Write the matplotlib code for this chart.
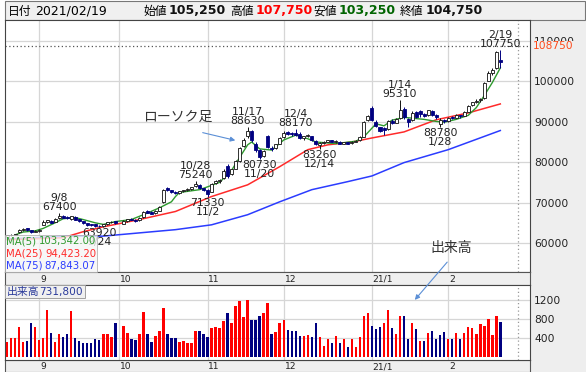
import numpy as np
import matplotlib
matplotlib.use('Agg')
import matplotlib.pyplot as plt
from matplotlib.patches import Rectangle

plt.rcParams['font.family'] = ['DejaVu Sans', 'Noto Sans CJK JP']

nan = np.nan

# daily candles 2020/08/20 - 2021/02/19 (no trading on 10/1)
opens = [61600, 61900, 62100, 62600, 63200, 63600, 63200, 62700, 63000, 64500,
         65300, 65400, 65200, 66200, 66800, 66400, 66000, 66500, 65900, 65400,
         64900, 64600, 64600, 64300, 64100, 64600, 65100, 65400, nan, 64800,
         65400, 66000, 65700, 65600, 66400, 67800, 67600, 67400, 68000, 70200,
         73600, 73000, 72700, 72300, 72800, 73000, 73400, 74000, 74300, 73500,
         73200, 72600, 74800, 75400, 76000, 79000, 77000, 78400, 80200, 84000,
         86400, 87600, 84600, 83000, 81600, 86600, 83600, 83400, 84600, 86200,
         87400, 87200, 87200, 87000, 86000, 86500, 86400, 85200, 84300, 84800,
         85000, 85500, 85000, 85000, 84600, 84900, 84700, 85000, 85400, 86300,
         90500, 93400, 90000, 88600, 88500, 88200, 90300, 89800, 91000, 93200,
         90600, 90400, 92400, 92600, 92000, 91600, 92600, 91800, 89400, 90400,
         90200, 91200, 91000, 91600, 91500, 92500, 94100, 94900, 95300, 95800,
         100200, 102000, 103300, 105250]
highs = [62000, 62200, 62300, 63400, 63600, 63700, 63300, 63200, 63400, 65600,
         65800, 65600, 66200, 67400, 66900, 66700, 66800, 66600, 66000, 65500,
         65000, 64800, 64700, 64500, 64800, 65300, 65500, 65500, nan, 65600,
         66000, 66200, 65900, 66400, 67800, 68200, 67800, 68200, 69200, 73400,
         73900, 73200, 72900, 72900, 73200, 73500, 73900, 75240, 74600, 73700,
         73400, 74800, 75600, 75800, 78400, 79500, 78400, 80600, 83800, 86000,
         88630, 87900, 85000, 83200, 83000, 86800, 84000, 84600, 86200, 87600,
         87800, 87500, 88170, 87400, 86600, 87000, 86500, 85400, 85000, 85300,
         85600, 85600, 85500, 85200, 85100, 85000, 85200, 85500, 86400, 90300,
         91800, 93800, 90400, 88800, 88700, 90400, 90600, 91000, 95310, 93600,
         90900, 92600, 92600, 92800, 92200, 93000, 92800, 92000, 91000, 90800,
         91200, 91400, 91900, 91800, 92600, 94200, 95000, 95600, 96000, 99900,
         102600, 103400, 107500, 107750]
lows = [61400, 61700, 61900, 62500, 63000, 63000, 62500, 62600, 62800, 64400,
        65000, 64900, 65100, 66000, 66200, 66000, 65800, 65700, 65300, 64800,
        64300, 64200, 64000, 63920, 64000, 64500, 64900, 64800, nan, 64700,
        65300, 65600, 65300, 65500, 66300, 67400, 67100, 67300, 67900, 70000,
        72800, 72400, 72200, 72200, 72600, 72800, 73200, 73800, 73400, 72800,
        71330, 72500, 74500, 74800, 75800, 76200, 76800, 78200, 80000, 83800,
        86000, 85000, 82600, 80730, 81400, 83400, 82800, 83200, 84400, 86000,
        86800, 86600, 86600, 85800, 85600, 86200, 85200, 84200, 83260, 84600,
        84900, 84900, 84800, 84400, 84400, 84400, 84600, 84900, 85300, 86200,
        90200, 90200, 88600, 87400, 86800, 88000, 89400, 89600, 90800, 90800,
        88600, 90300, 91000, 91200, 91200, 91500, 91400, 90800, 88780, 89800,
        90000, 90600, 90900, 91000, 91400, 92400, 93800, 94600, 95000, 95600,
        100000, 101600, 103000, 103250]
closes = [61900, 62100, 62200, 63200, 63400, 63200, 62700, 63000, 63200, 65300,
          65600, 65000, 66000, 66600, 66300, 66200, 66600, 65800, 65400, 64900,
          64500, 64400, 64200, 64100, 64600, 65100, 65300, 64900, nan, 65400,
          65900, 65700, 65500, 66300, 67600, 67500, 67300, 68000, 69000, 73200,
          73000, 72600, 72400, 72800, 73000, 73300, 73800, 74500, 73600, 73000,
          72200, 74600, 75300, 75500, 77900, 76600, 78200, 80300, 83500, 85600,
          87600, 85400, 83000, 81400, 82700, 83800, 83200, 84400, 86000, 87300,
          87100, 86900, 86800, 86000, 86400, 86700, 85400, 84500, 84800, 85000,
          85400, 85000, 85300, 84600, 84900, 84600, 85000, 85300, 86200, 90000,
          91500, 90500, 89000, 87800, 87900, 90100, 89700, 90800, 93000, 91200,
          90000, 92300, 91300, 92000, 91500, 92800, 91800, 91200, 90400, 90200,
          91000, 90900, 91700, 91400, 92400, 94000, 94800, 95200, 95600, 99600,
          102200, 102800, 107200, 104750]

# volume in thousand shares, 1 = up (red), 0 = down (navy)
volumes = [322, 394, 407, 625, 322, 337, 723, 625, 358, 407,
           989, 512, 322, 477, 414, 477, 975, 407, 337, 302,
           302, 302, 372, 358, 477, 484, 428, 709, nan, 653,
           512, 372, 358, 477, 940, 477, 322, 449, 547, 1038,
           477, 400, 400, 322, 337, 302, 302, 547, 547, 477,
           428, 604, 625, 604, 758, 919, 709, 1081, 1186, 835,
           1200, 779, 779, 870, 919, 1130, 484, 519, 723, 779,
           568, 547, 547, 449, 449, 463, 428, 709, 428, 232,
           372, 302, 449, 302, 372, 218, 372, 218, 414, 863,
           933, 660, 582, 625, 709, 989, 604, 484, 870, 870,
           372, 709, 582, 337, 337, 512, 547, 372, 463, 519,
           372, 372, 512, 372, 512, 638, 604, 484, 688, 660,
           800, 463, 863, 731.8]
vol_up = [1, 1, 1, 1, 1, 0, 0, 1, 1, 1,
          1, 0, 1, 1, 0, 0, 1, 0, 0, 0,
          0, 0, 0, 0, 1, 1, 1, 0, 0, 1,
          1, 0, 0, 1, 1, 0, 0, 1, 1, 1,
          0, 0, 0, 1, 1, 1, 1, 1, 0, 0,
          0, 1, 1, 1, 1, 0, 1, 1, 1, 1,
          1, 0, 0, 0, 1, 1, 0, 1, 1, 1,
          0, 0, 0, 0, 1, 1, 0, 0, 1, 1,
          1, 0, 1, 0, 1, 0, 1, 1, 1, 1,
          1, 0, 0, 0, 1, 1, 0, 1, 1, 0,
          0, 1, 0, 1, 0, 1, 0, 0, 0, 0,
          1, 0, 1, 0, 1, 1, 1, 1, 1, 1,
          1, 1, 1, 0]

# moving averages (day index, value)
ma5_idx = [2, 4, 7, 9, 12, 14, 17, 19, 22, 24, 27, 31, 34, 38, 41, 42, 43, 48, 50,
           53, 56, 57, 60, 61, 63, 66, 69, 72, 75, 77, 82, 87, 89, 92, 94, 96, 99,
           101, 104, 107, 109, 112, 115, 117, 119, 121, 123]
ma5_val = [62000, 62700, 63000, 63600, 65000, 66000, 66300, 65800, 65000, 64600,
           65300, 65800, 67000, 68700, 70200, 71500, 72500, 73200, 73900, 75000,
           78000, 79600, 84300, 85000, 83300, 83000, 85500, 86700, 85800, 85000,
           84600, 85200, 86300, 89500, 89000, 90400, 91100, 90900, 90600, 90100,
           89900, 90600, 91600, 93500, 96500, 99700, 103342.00]
ma25_idx = [0, 14, 19, 24, 33, 42, 51, 60, 68, 75, 80, 86, 91, 99, 107, 115, 123]
ma25_val = [60800, 61300, 62800, 64000, 65800, 67800, 71500, 74400, 78900, 83100,
            84300, 85000, 86000, 87500, 90500, 92200, 94423.20]
ma75_idx = [0, 15, 24, 42, 51, 60, 68, 76, 85, 91, 99, 110, 123]
ma75_val = [61000, 61700, 61700, 63300, 64500, 67000, 70200, 73200, 75200, 76600,
            79900, 83100, 87843.07]

month_idx = [8, 28, 50, 69, 91, 110]
month_labels = ['9', '10', '11', '12', '21/1', '2']
price_ticks = [60000, 70000, 80000, 90000, 100000, 110000]
vol_ticks = [400, 800, 1200]
hi_marks = [(13, '9/8'), (47, '10/28'), (60, '11/17'), (72, '12/4'), (98, '1/14'), (123, '2/19')]
lo_marks = [(23, '9/24'), (50, '11/2'), (63, '11/20'), (78, '12/14'), (108, '1/28')]
ref_price = 108750
last_date = '2021/02/19'

opens = np.array(opens, dtype=float)
highs = np.array(highs, dtype=float)
lows = np.array(lows, dtype=float)
closes = np.array(closes, dtype=float)
volumes = np.array(volumes, dtype=float)
x = np.arange(len(closes))
ok = ~np.isnan(closes)
up = closes >= opens

W, H = 586, 372
NAVY = '#000080'
GRID = '#d6d6d6'


def box(x0, y0, x1, y1):
    return [x0 / W, 1 - y1 / H, (x1 - x0) / W, (y1 - y0) / H]


fig = plt.figure(figsize=(W / 100, H / 100), dpi=100)

bg = fig.add_axes([0, 0, 1, 1])
bg.set_xlim(0, W)
bg.set_ylim(H, 0)
bg.axis('off')
bg.add_patch(Rectangle((530, 20), 56, 352, fc='#eeeeee', ec='none'))
bg.add_patch(Rectangle((5, 1), 580, 19, fc='#f0f0f0', ec='#777777', lw=0.8))

# header
hy = 11
bg.text(8, hy, '日付', fontsize=8.5, va='center')
bg.text(35, hy, last_date, fontsize=9, va='center')
head = [('始値', opens[-1], '#111111', 143),
        ('高値', highs[-1], '#ff0000', 230),
        ('安値', lows[-1], '#006400', 313),
        ('終値', closes[-1], '#111111', 400)]
for name, v, c, hx in head:
    bg.text(hx, hy, name, fontsize=8.5, va='center')
    bg.text(hx + 26, hy, f'{v:,.0f}', fontsize=9, fontweight='bold', color=c, va='center')

xlim = (-0.5, 130.4)
now_x = len(closes) + 3.4

# price panel
ax = fig.add_axes(box(5, 20, 530, 272))
ax.set_xlim(*xlim)
ax.set_ylim(52820, 115200)
ax.set_xticks(month_idx)
ax.set_xticklabels([])
ax.set_yticks(price_ticks)
ax.set_yticklabels([str(t) for t in price_ticks])
ax.yaxis.tick_right()
ax.tick_params(axis='y', length=0, pad=3, labelsize=7.7, labelcolor='#222222')
ax.tick_params(axis='x', length=0)
ax.grid(True, color=GRID, lw=0.9)
ax.set_axisbelow(True)
for s in ax.spines.values():
    s.set_color('#444444')

ax.axhline(ref_price, color='#555555', lw=0.9, ls=(0, (1, 2)))
ax.axvline(now_x, color='#999999', lw=0.9, ls=(0, (1, 2)))
ax.text(1.005, ref_price, str(ref_price), transform=ax.get_yaxis_transform(),
        color='#ff4a1a', fontsize=7.7, va='center', ha='left',
        bbox=dict(fc='#eeeeee', ec='none', pad=0.3))

ax.plot(ma75_idx, ma75_val, color='#2b3cff', lw=1.1, zorder=2)
ax.plot(ma25_idx, ma25_val, color='#ff2a2a', lw=1.1, zorder=2)
ax.plot(ma5_idx, ma5_val, color='#2e9a2e', lw=1.0, zorder=2)

uu = ok & up
dd = ok & ~up
ax.vlines(x[uu], lows[uu], highs[uu], color='#111111', lw=0.7, zorder=3)
ax.vlines(x[dd], lows[dd], highs[dd], color=NAVY, lw=0.7, zorder=3)
body = np.maximum(np.abs(closes - opens), 120)
ax.bar(x[uu], body[uu], bottom=opens[uu], width=0.75, color='white',
       edgecolor='#111111', lw=0.6, zorder=4)
ax.bar(x[dd], body[dd], bottom=closes[dd], width=0.75, color=NAVY,
       edgecolor=NAVY, lw=0.6, zorder=4)

for i, d in hi_marks:
    ax.annotate(f'{d}\n{highs[i]:.0f}', xy=(i, highs[i]), xytext=(0, 1),
                textcoords='offset pixels', ha='center', va='bottom',
                fontsize=7.8, linespacing=0.9, color='#222222', zorder=6)
for i, d in lo_marks:
    ax.annotate(f'{lows[i]:.0f}\n{d}', xy=(i, lows[i]), xytext=(0, -1),
                textcoords='offset pixels', ha='center', va='top',
                fontsize=7.8, linespacing=0.9, color='#222222', zorder=6)

# date bands
for y0, y1 in [(272, 285), (360, 372)]:
    band = fig.add_axes(box(5, y0, 530, y1))
    band.set_xlim(*xlim)
    band.set_facecolor('#efefef')
    band.set_xticks([])
    band.set_yticks([])
    for s in band.spines.values():
        s.set_color('#555555')
    for i, lab in zip(month_idx, month_labels):
        band.text(i + 0.2, 0.45, lab, transform=band.get_xaxis_transform(),
                  fontsize=6.6, ha='left', va='center', color='#222222')

# volume panel
av = fig.add_axes(box(5, 285, 530, 360))
av.set_xlim(*xlim)
av.set_ylim(-63, 1516)
av.set_xticks(month_idx)
av.set_xticklabels([])
av.set_yticks(vol_ticks)
av.set_yticklabels([str(t) for t in vol_ticks])
av.yaxis.tick_right()
av.tick_params(axis='y', length=0, pad=3, labelsize=7.7, labelcolor='#222222')
av.tick_params(axis='x', length=0)
av.grid(True, color=GRID, lw=0.9)
av.set_axisbelow(True)
for s in av.spines.values():
    s.set_color('#444444')
av.axvline(now_x, color='#999999', lw=0.9, ls=(0, (1, 2)))
vcol = ['#ff0000' if u else NAVY for u in vol_up]
av.bar(x[ok], volumes[ok], width=0.62, bottom=0, color=np.array(vcol)[ok], zorder=3)

# overlay: legends, notes
fg = fig.add_axes([0, 0, 1, 1], zorder=10)
fg.patch.set_alpha(0)
fg.set_xlim(0, W)
fg.set_ylim(H, 0)
fg.axis('off')

fg.add_patch(Rectangle((5, 235), 92, 37, fc='#f6f6f6', ec='#b0b0b0', lw=0.7, alpha=0.8))
legend_rows = [('MA(5)', ma5_val[-1], '#2e9a2e', 241),
               ('MA(25)', ma25_val[-1], '#ff2a2a', 254),
               ('MA(75)', ma75_val[-1], '#2b3cff', 266)]
for name, v, c, ry in legend_rows:
    fg.text(6, ry, name, color=c, fontsize=7.3, va='center', ha='left')
    fg.text(96, ry, f'{v:,.2f}', color=c, fontsize=7.3, va='center', ha='right')

fg.add_patch(Rectangle((5, 285), 80, 13, fc='#f0f0f0', ec='#a0a0a0', lw=0.7))
fg.text(7, 291.5, '出来高', color='#2a3a9a', fontsize=7.8, va='center')
fg.text(83, 291.5, f'{volumes[-1] * 1000:,.0f}', color='#2a3a9a', fontsize=7.6,
        va='center', ha='right')

arrow = dict(arrowstyle='-|>', color='#5b8fd6', lw=0.8, mutation_scale=7)
fg.text(178, 117, 'ローソク足', fontsize=10, color='#333333', ha='center', va='center')
fg.annotate('', xy=(238, 141), xytext=(200, 132), arrowprops=arrow)
fg.text(451, 248, '出来高', fontsize=10, color='#333333', ha='center', va='center')
fg.annotate('', xy=(413, 302), xytext=(449, 260), arrowprops=arrow)

fig.savefig('out.png', dpi=100)
